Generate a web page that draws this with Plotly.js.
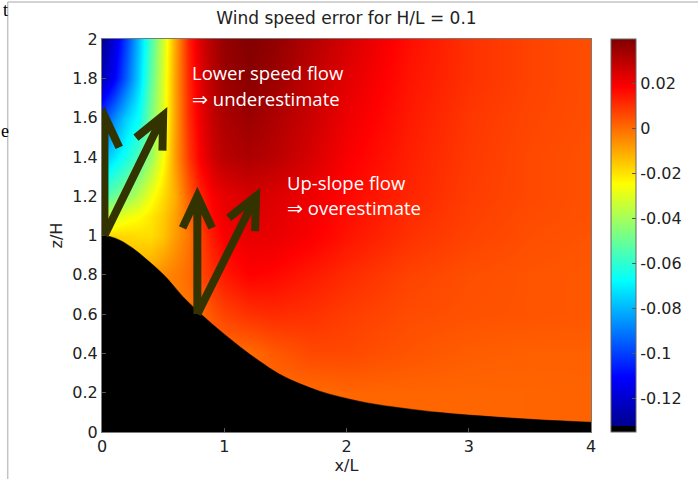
<!DOCTYPE html>
<html>
<head>
<meta charset="utf-8">
<script src="https://cdn.plot.ly/plotly-3.0.1.min.js"></script>
<style>html,body{margin:0;padding:0;background:#fff;}#chart{width:698px;height:479px;}</style>
</head>
<body>
<div id="chart"></div>
<script>
// ---- data ----
const xGrid = [0, 0.1, 0.2, 0.3, 0.4, 0.5, 0.6, 0.7, 0.8, 0.9, 1.0, 1.2, 1.4, 1.7, 2.0, 2.5, 3.0, 3.5, 4.0];
const zGrid = [0, 0.2, 0.4, 0.6, 0.8, 1.0, 1.1, 1.2, 1.4, 1.6, 1.8, 2.0];

const errZ00 = [-0.008,-0.008,-0.008,-0.008,-0.008,-0.005,-0.003,-0.002,0.000,0.000,0.000,0.000,0.000,0.000,0.001,0.001,0.001,0.0012,0.0015];
const errZ02 = [-0.008,-0.008,-0.008,-0.008,-0.008,-0.005,-0.003,-0.002,0.000,0.000,0.000,0.000,0.000,0.000,0.001,0.001,0.001,0.0012,0.0015];
const errZ04 = [-0.008,-0.008,-0.008,-0.008,-0.008,-0.005,-0.003,-0.002,0.000,0.000,0.000,0.000,0.003,0.006,0.006,0.004,0.0025,0.002,0.002];
const errZ06 = [-0.008,-0.008,-0.008,-0.008,-0.006,-0.005,-0.003,-0.002,0.000,0.004,0.007,0.010,0.011,0.010,0.008,0.0055,0.0045,0.004,0.0035];
const errZ08 = [-0.010,-0.010,-0.010,-0.009,-0.008,-0.005,-0.003,0.000,0.006,0.010,0.014,0.018,0.017,0.014,0.011,0.007,0.005,0.004,0.0035];
const errZ10 = [-0.018,-0.018,-0.018,-0.019,-0.019,-0.015,-0.008,-0.002,0.007,0.014,0.019,0.022,0.022,0.019,0.015,0.010,0.007,0.005,0.004];
const errZ11 = [-0.036,-0.032,-0.028,-0.025,-0.021,-0.016,-0.009,0.000,0.010,0.017,0.021,0.024,0.023,0.020,0.016,0.011,0.0075,0.0055,0.0045];
const errZ12 = [-0.058,-0.050,-0.044,-0.036,-0.027,-0.019,-0.011,0.002,0.012,0.019,0.022,0.025,0.024,0.021,0.017,0.012,0.008,0.006,0.0045];
const errZ14 = [-0.080,-0.072,-0.064,-0.055,-0.042,-0.026,-0.008,0.008,0.019,0.026,0.030,0.032,0.030,0.025,0.019,0.013,0.0085,0.006,0.0045];
const errZ16 = [-0.100,-0.088,-0.076,-0.066,-0.047,-0.030,-0.009,0.010,0.021,0.028,0.032,0.035,0.032,0.027,0.021,0.014,0.009,0.0065,0.005];
const errZ18 = [-0.125,-0.112,-0.095,-0.075,-0.052,-0.031,-0.009,0.011,0.023,0.030,0.035,0.038,0.035,0.029,0.023,0.015,0.010,0.007,0.005];
const errZ20 = [-0.132,-0.118,-0.100,-0.078,-0.055,-0.033,-0.010,0.012,0.024,0.031,0.036,0.039,0.037,0.031,0.025,0.016,0.010,0.007,0.005];

const terrainX = [0, 0.07, 0.15, 0.25, 0.39, 0.53, 0.66, 0.8, 0.94, 1.13, 1.29, 1.45, 1.62, 1.78, 1.94, 2.1, 2.27, 2.75, 3.25, 3.7, 4.0];
const terrainZ = [1.0, 0.994, 0.975, 0.936, 0.865, 0.784, 0.69, 0.606, 0.529, 0.433, 0.36, 0.295, 0.245, 0.208, 0.18, 0.157, 0.138, 0.10, 0.075, 0.058, 0.05];

const colorMin = -0.135;
const colorMax = 0.0396;

const xTickVals = [0, 1, 2, 3, 4];
const xTickText = ['0', '1', '2', '3', '4'];
const yTickVals = [0, 0.2, 0.4, 0.6, 0.8, 1, 1.2, 1.4, 1.6, 1.8, 2];
const yTickText = ['0', '0.2', '0.4', '0.6', '0.8', '1', '1.2', '1.4', '1.6', '1.8', '2'];
const cbTickVals = [0.02, 0, -0.02, -0.04, -0.06, -0.08, -0.1, -0.12];
const cbTickText = ['0.02', '0', '-0.02', '-0.04', '-0.06', '-0.08', '-0.1', '-0.12'];

const arrowBaseX = [0.02, 0.02, 0.78, 0.78];
const arrowBaseZ = [1.0, 1.0, 0.6, 0.6];
const arrowTipX = [0.02, 0.5, 0.78, 1.26];
const arrowTipZ = [1.61, 1.61, 1.2, 1.2];

const noteText = ['Lower speed flow', '\u21D2 underestimate', 'Up-slope flow', '\u21D2 overestimate'];
const noteX = [0.72, 0.72, 1.5, 1.5];
const noteZ = [1.83, 1.695, 1.27, 1.14];

const titleText = 'Wind speed error for H/L = 0.1';
const xTitle = 'x/L';
const yTitle = 'z/H';

// ---- layout geometry ----
const W = 698, H = 479;
const M = {l: 102, r: 106, t: 39, b: 47};
const plotW = W - M.l - M.r, plotH = H - M.t - M.b;
const xRange = [0, 4], yRange = [0, 2];
const pxPerX = plotW / (xRange[1] - xRange[0]);
const pxPerZ = plotH / (yRange[1] - yRange[0]);

// jet colormap with a black bottom slot (terrain)
const k = 1 / 64, f = 63 / 64;
const colorscale = [
  [0, '#000000'], [k, '#000000'],
  [k + 0.0001, 'rgb(0,0,143)'],
  [k + f * 0.125, 'rgb(0,0,255)'],
  [k + f * 0.375, 'rgb(0,255,255)'],
  [k + f * 0.625, 'rgb(255,255,0)'],
  [k + f * 0.875, 'rgb(255,0,0)'],
  [1, 'rgb(128,0,0)']
];

const field = {
  type: 'heatmap',
  x: xGrid, y: zGrid,
  z: [errZ00, errZ02, errZ04, errZ06, errZ08, errZ10, errZ11, errZ12, errZ14, errZ16, errZ18, errZ20],
  zsmooth: 'best', zmin: colorMin, zmax: colorMax,
  colorscale: colorscale, hoverinfo: 'skip',
  colorbar: {
    x: 509 / plotW, xanchor: 'left', y: 0.5, yanchor: 'middle',
    len: 1, lenmode: 'fraction', thickness: 25, thicknessmode: 'pixels',
    xpad: 0, ypad: 0, outlinewidth: 1, outlinecolor: '#666',
    tickmode: 'array', tickvals: cbTickVals, ticktext: cbTickText,
    ticks: 'inside', ticklen: 4, tickcolor: '#555',
    tickfont: {family: 'DejaVu Sans', size: 16, color: '#222'}
  }
};

const terrain = {
  type: 'scatter', mode: 'lines', x: terrainX, y: terrainZ,
  line: {color: '#000', width: 0.5, shape: 'spline', smoothing: 1},
  fill: 'tozeroy', fillcolor: '#000', hoverinfo: 'skip', showlegend: false
};

// arrows: shaft + open chevron head, built in pixel space
const shapes = [];
const headLen = 35, headAng = 25 * Math.PI / 180;
for (let i = 0; i < arrowTipX.length; i++) {
  const bx = arrowBaseX[i], bz = arrowBaseZ[i], tx = arrowTipX[i], tz = arrowTipZ[i];
  const dx = (tx - bx) * pxPerX, dy = (tz - bz) * pxPerZ;
  const L = Math.hypot(dx, dy), ux = -dx / L, uy = -dy / L;
  const pts = [headAng, -headAng].map(a => {
    const rx = ux * Math.cos(a) - uy * Math.sin(a);
    const ry = ux * Math.sin(a) + uy * Math.cos(a);
    return [tx + headLen * rx / pxPerX, tz + headLen * ry / pxPerZ];
  });
  shapes.push({
    type: 'path', xref: 'x', yref: 'y', layer: 'above',
    path: `M${bx},${bz} L${tx},${tz} M${pts[0][0]},${pts[0][1]} L${tx},${tz} L${pts[1][0]},${pts[1][1]}`,
    line: {color: '#333300', width: 8}
  });
}
// document frame lines around the picture
const px2x = p => (p - M.l) / plotW, py2y = p => (H - M.b - p) / plotH;
shapes.push({type: 'line', xref: 'paper', yref: 'paper', x0: px2x(7.5), x1: px2x(7.5), y0: py2y(2), y1: py2y(480), line: {color: '#c4c4c4', width: 1.5}});
shapes.push({type: 'line', xref: 'paper', yref: 'paper', x0: px2x(7.5), x1: px2x(700), y0: py2y(2), y1: py2y(2), line: {color: '#c4c4c4', width: 1.5}});

const annotations = noteText.map((t, i) => ({
  x: noteX[i], y: noteZ[i], xref: 'x', yref: 'y', text: t, showarrow: false,
  xanchor: 'left', yanchor: 'middle',
  font: {family: 'Open Sans', size: 18.5, color: '#ffffff'}
}));
annotations.push({x: px2x(5), y: py2y(10), xref: 'paper', yref: 'paper', text: 't', showarrow: false,
  xanchor: 'center', yanchor: 'middle', font: {family: 'Liberation Serif', size: 18, color: '#000'}});
annotations.push({x: px2x(5), y: py2y(131), xref: 'paper', yref: 'paper', text: 'e', showarrow: false,
  xanchor: 'center', yanchor: 'middle', font: {family: 'Liberation Serif', size: 18, color: '#000'}});

const axisCommon = {
  showgrid: false, zeroline: false, showline: true, mirror: true,
  linecolor: '#7a7a7a', linewidth: 1, ticks: 'inside', ticklen: 4, tickcolor: '#555',
  tickfont: {family: 'DejaVu Sans', size: 16, color: '#222'}, tickmode: 'array', fixedrange: true
};

const layout = {
  width: W, height: H, margin: M,
  paper_bgcolor: '#ffffff', plot_bgcolor: '#ffffff', showlegend: false,
  title: {text: titleText, x: 0.5, xref: 'paper', xanchor: 'center', y: 1 - 18 / H, yanchor: 'middle',
    font: {family: 'DejaVu Sans', size: 17, color: '#222'}},
  xaxis: Object.assign({}, axisCommon, {range: xRange, tickvals: xTickVals, ticktext: xTickText,
    title: {text: xTitle, standoff: 2, font: {family: 'DejaVu Sans', size: 16, color: '#222'}}}),
  yaxis: Object.assign({}, axisCommon, {range: yRange, tickvals: yTickVals, ticktext: yTickText,
    title: {text: yTitle, standoff: 5, font: {family: 'DejaVu Sans', size: 16, color: '#222'}}}),
  shapes: shapes, annotations: annotations
};

Plotly.newPlot('chart', [field, terrain], layout, {displayModeBar: false, staticPlot: true});
</script>
</body>
</html>
